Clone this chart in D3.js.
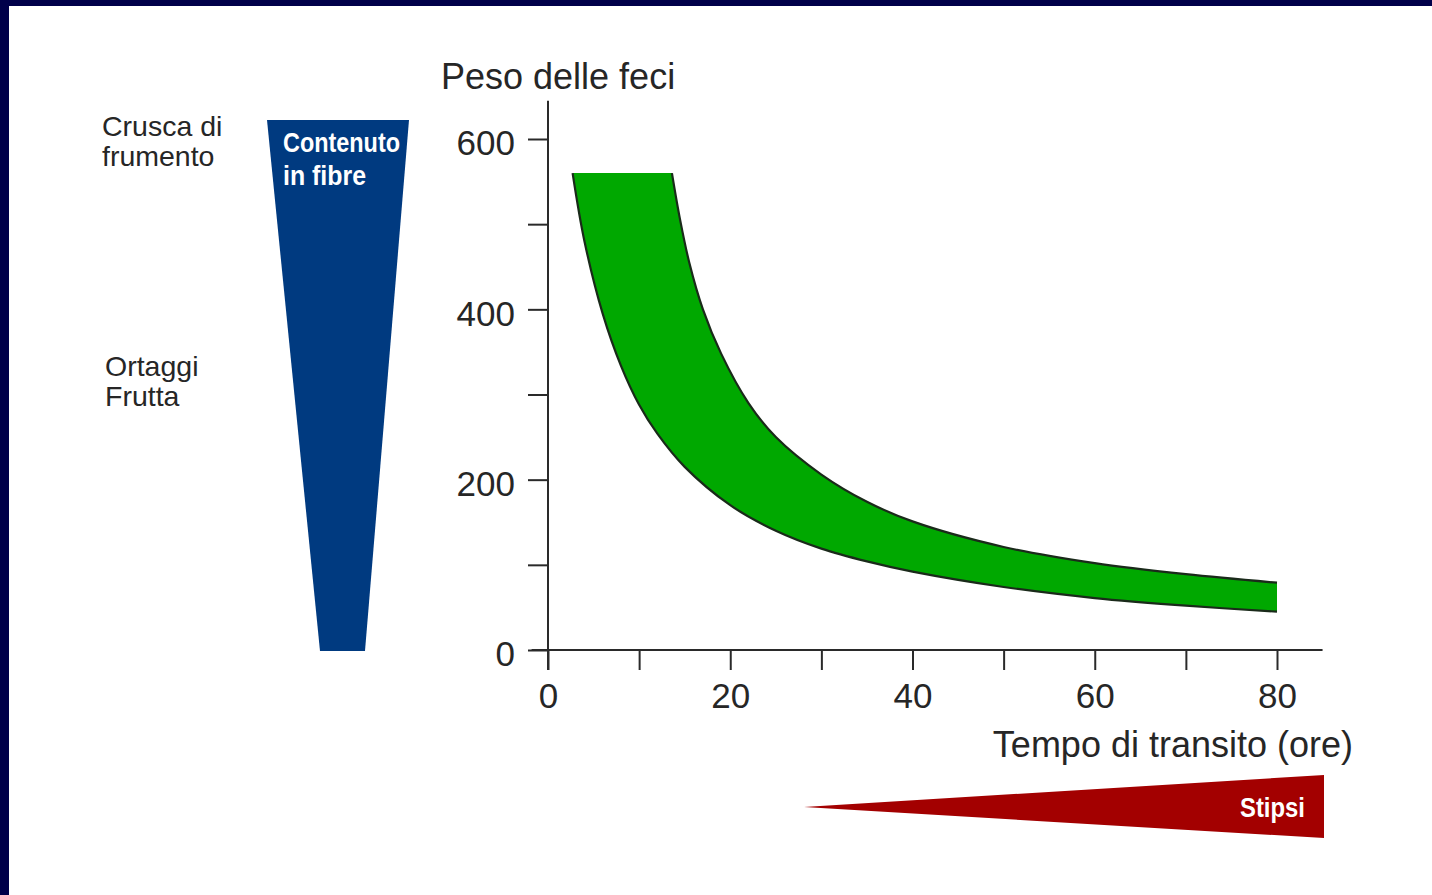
<!DOCTYPE html>
<html><head><meta charset="utf-8">
<script src="https://cdn.jsdelivr.net/npm/d3@7/dist/d3.min.js"></script>
<style>html,body{margin:0;padding:0;background:#fff;}svg{display:block;}</style>
</head><body>
<svg id="c" width="1432" height="895"></svg>
<script>
// ---- data ----
const xTicks = [0,10,20,30,40,50,60,70,80];
const xTickLabels = ["0","","20","","40","","60","","80"];
const yTicks = [0,100,200,300,400,500,600];
const yTickLabels = ["0","","200","","400","","600"];
// lower (left) boundary of band: transit time (h) vs stool weight (g)
const lowerX = [2.7,4,6,8,10,12,15,20,25,30,35,40,50,60,70,80];
const lowerY = [560,480,395,334,288,254,215,170,140,119,104,92,74,61,52,45];
// upper (right) boundary of band
const upperX = [13.6,14.5,15.5,17,19,22,25,30,35,40,50,60,70,80];
const upperY = [560,505,455,400,348,290,250,206,174,151,121,102,89,79];
const yTitle = "Peso delle feci";
const xTitle = "Tempo di transito (ore)";
const fibreLabels = ["Crusca di","frumento"];
const fruitLabels = ["Ortaggi","Frutta"];
const wedgeLabel = ["Contenuto","in fibre"];
const stipsiLabel = "Stipsi";

const svg = d3.select("#c");
const W = 1432, H = 895;
svg.append("rect").attr("width",W).attr("height",H).attr("fill","#fff");
// frame (top and left)
svg.append("rect").attr("x",0).attr("y",0).attr("width",W).attr("height",6).attr("fill","#00004a");
svg.append("rect").attr("x",0).attr("y",0).attr("width",9).attr("height",H).attr("fill","#00004a");

const x = d3.scaleLinear().domain([0,80]).range([548,1277]);
const y = d3.scaleLinear().domain([0,600]).range([650,139]);
const font = "'Liberation Sans', Arial, Helvetica, sans-serif";
const axisCol = "#2a2a2a";
const txtCol = "#262626";

// band
const lowerPts = lowerX.map((v,i)=>[x(v),y(lowerY[i])]);
const upperPts = upperX.map((v,i)=>[x(v),y(upperY[i])]);
const lineGen = d3.line().curve(d3.curveCatmullRom.alpha(0.5));
const upperRev = upperPts.slice().reverse();
const bandPath = lineGen(lowerPts) + "L" + lineGen(upperRev).slice(1) + "Z";
svg.append("path").attr("d",bandPath).attr("fill","#00a800").attr("stroke","none");
svg.append("path").attr("d",lineGen(lowerPts)).attr("fill","none").attr("stroke","#1a2a1a").attr("stroke-width",2.2);
svg.append("path").attr("d",lineGen(upperPts)).attr("fill","none").attr("stroke","#1a2a1a").attr("stroke-width",2.2);

// x axis
const gx = svg.append("g").attr("transform",`translate(0,${y(0)})`)
  .call(d3.axisBottom(x).tickValues(xTicks).tickSize(20).tickSizeOuter(0)
    .tickPadding(13).tickFormat((d,i)=>xTickLabels[i]));
gx.select(".domain").remove();
gx.selectAll(".tick line").attr("stroke",axisCol).attr("stroke-width",2);
gx.selectAll(".tick text").attr("font-family",font).attr("font-size",35).attr("fill",txtCol);
svg.append("line").attr("x1",x(-1.8)).attr("x2",x(85)).attr("y1",y(0)).attr("y2",y(0))
  .attr("stroke",axisCol).attr("stroke-width",2);

// y axis
const gy = svg.append("g").attr("transform",`translate(${x(0)},0)`)
  .call(d3.axisLeft(y).tickValues(yTicks).tickSize(20).tickSizeOuter(0)
    .tickPadding(13).tickFormat((d,i)=>yTickLabels[i]));
gy.select(".domain").remove();
gy.selectAll(".tick line").attr("stroke",axisCol).attr("stroke-width",2);
gy.selectAll(".tick text").attr("font-family",font).attr("font-size",35).attr("fill",txtCol).attr("dy","0.45em");
svg.append("line").attr("x1",x(0)).attr("x2",x(0)).attr("y1",y(0)+20).attr("y2",y(645))
  .attr("stroke",axisCol).attr("stroke-width",2);

// titles
svg.append("text").attr("x",441).attr("y",89).attr("font-family",font).attr("font-size",36)
  .attr("fill",txtCol).text(yTitle);
svg.append("text").attr("x",1353).attr("y",757).attr("text-anchor","end").attr("font-family",font)
  .attr("font-size",36).attr("fill",txtCol).text(xTitle);

// left labels
fibreLabels.forEach((t,i)=>svg.append("text").attr("x",102).attr("y",136+i*30)
  .attr("font-family",font).attr("font-size",28.5).attr("fill",txtCol).text(t));
fruitLabels.forEach((t,i)=>svg.append("text").attr("x",105).attr("y",376+i*30)
  .attr("font-family",font).attr("font-size",28.5).attr("fill",txtCol).text(t));

// fibre wedge
svg.append("path").attr("d","M267,120 L409,120 L365,651 L320,651 Z").attr("fill","#003a80");
const wedgeW = [117,83];
wedgeLabel.forEach((t,i)=>svg.append("text").attr("x",283).attr("y",152+i*33)
  .attr("font-family",font).attr("font-weight","bold").attr("font-size",27)
  .attr("textLength",wedgeW[i]).attr("lengthAdjust","spacingAndGlyphs")
  .attr("fill","#fff").text(t));

// stipsi wedge
svg.append("path").attr("d","M804,807 L1324,775 L1324,838 Z").attr("fill","#a30000");
svg.append("text").attr("x",1240).attr("y",817)
  .attr("font-family",font).attr("font-weight","bold").attr("font-size",27)
  .attr("textLength",65).attr("lengthAdjust","spacingAndGlyphs")
  .attr("fill","#fff").text(stipsiLabel);
</script>
</body></html>
